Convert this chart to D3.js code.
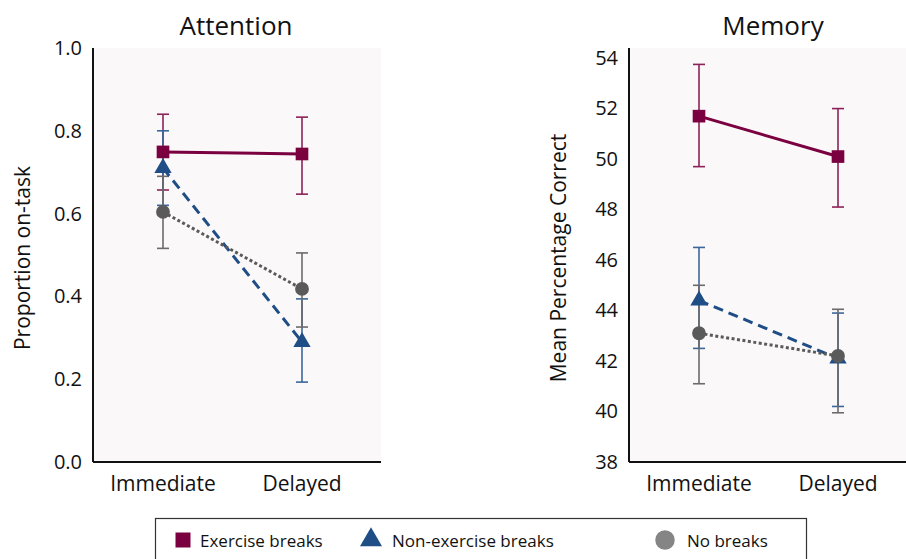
<!DOCTYPE html>
<meta charset="utf-8">
<html>
<head>
<style>
  body { margin: 0; background: #fff; }
  svg text { font-family: "Open Sans", "Noto Sans", sans-serif; fill: #111; }
</style>
</head>
<body>
<svg width="906" height="559"></svg>
<script src="https://cdn.jsdelivr.net/npm/d3@7"></script>
<script>
// categories on x
var phases = ["Immediate", "Delayed"];
var groups = ["Exercise breaks", "Non-exercise breaks", "No breaks"];

// Attention: proportion on-task (mean, low, high)
var attExercise = [0.749, 0.744];
var attExerciseLo = [0.657, 0.647];
var attExerciseHi = [0.840, 0.833];
var attNonEx = [0.710, 0.290];
var attNonExLo = [0.620, 0.193];
var attNonExHi = [0.800, 0.394];
var attNone = [0.604, 0.418];
var attNoneLo = [0.516, 0.326];
var attNoneHi = [0.690, 0.505];

// Memory: mean percentage correct
var memExercise = [51.7, 50.1];
var memExerciseLo = [49.7, 48.1];
var memExerciseHi = [53.75, 52.0];
var memNonEx = [44.4, 42.1];
var memNonExLo = [42.5, 40.2];
var memNonExHi = [46.5, 43.9];
var memNone = [43.1, 42.2];
var memNoneLo = [41.1, 39.95];
var memNoneHi = [45.0, 44.05];

var attTicks = [0, 0.2, 0.4, 0.6, 0.8, 1.0];
var memTicks = [38, 40, 42, 44, 46, 48, 50, 52, 54];

var colors = { ex: "#7a0040", non: "#1f4e86", none: "#5a5a5a" };
var errColors = { ex: "#8c2257", non: "#3a679c", none: "#6b6b6b" };

var svg = d3.select("svg");

function panel(opts) {
  var g = svg.append("g").attr("transform", "translate(" + opts.left + ",0)");
  var top = 48, bottom = 462;

  var x = d3.scalePoint().domain(phases).range([70, 209]);
  var y = d3.scaleLinear().domain(opts.domain).range([bottom, top]);

  g.append("rect")
    .attr("x", 0).attr("y", top)
    .attr("width", opts.width).attr("height", bottom - top)
    .attr("fill", "#fbf8f9");

  // y axis
  var ya = g.append("g").call(d3.axisLeft(y).tickValues(opts.ticks).tickSize(0).tickPadding(11).tickFormat(opts.fmt));
  ya.select(".domain").attr("stroke", "#111").attr("stroke-width", 2).attr("d", "M0," + top + "V" + bottom);
  ya.selectAll("text").style("font-size", "20px").attr("fill", "#111");

  // x axis line
  g.append("line")
    .attr("x1", 0).attr("x2", opts.width)
    .attr("y1", bottom).attr("y2", bottom)
    .attr("stroke", "#111").attr("stroke-width", 2);

  g.selectAll(".xlab").data(phases).enter().append("text")
    .attr("x", function(d) { return x(d); })
    .attr("y", 491)
    .attr("text-anchor", "middle")
    .style("font-size", "21px")
    .text(function(d) { return d; });

  g.append("text")
    .attr("x", opts.titleX).attr("y", 35)
    .attr("text-anchor", "middle")
    .style("font-size", "26px")
    .text(opts.title);

  g.append("text")
    .attr("transform", "translate(" + opts.ylabX + ",258) rotate(-90)")
    .attr("text-anchor", "middle")
    .style("font-size", "21px")
    .text(opts.ylab);

  var series = opts.series;

  // error bars
  series.forEach(function(s) {
    phases.forEach(function(p, i) {
      var cx = x(p);
      var eg = g.append("g").attr("stroke", errColors[s.key]).attr("stroke-width", 1.6);
      eg.append("line").attr("x1", cx).attr("x2", cx).attr("y1", y(s.lo[i])).attr("y2", y(s.hi[i]));
      eg.append("line").attr("x1", cx - 6).attr("x2", cx + 6).attr("y1", y(s.lo[i])).attr("y2", y(s.lo[i]));
      eg.append("line").attr("x1", cx - 6).attr("x2", cx + 6).attr("y1", y(s.hi[i])).attr("y2", y(s.hi[i]));
    });
  });

  var line = d3.line().x(function(d, i) { return x(phases[i]); }).y(function(d) { return y(d); });

  series.forEach(function(s) {
    g.append("path")
      .attr("d", line(s.mean))
      .attr("fill", "none")
      .attr("stroke", colors[s.key])
      .attr("stroke-width", 3)
      .attr("stroke-dasharray", s.dash);
  });

  // markers, drawn blue, grey, maroon
  [series[1], series[2], series[0]].forEach(function(s) {
    g.selectAll(null).data(s.mean).enter().append("path")
      .attr("transform", function(d, i) { return "translate(" + x(phases[i]) + "," + y(d) + ")"; })
      .attr("d", d3.symbol().type(s.symbol).size(s.size))
      .attr("fill", colors[s.key]);
  });
}

function seriesFor(m) {
  return [
    { key: "ex", mean: m[0], lo: m[1], hi: m[2], dash: null, symbol: d3.symbolSquare, size: 160 },
    { key: "non", mean: m[3], lo: m[4], hi: m[5], dash: "10,6", symbol: d3.symbolTriangle, size: 130 },
    { key: "none", mean: m[6], lo: m[7], hi: m[8], dash: "3,2.5", symbol: d3.symbolCircle, size: 150 }
  ];
}

panel({
  left: 93, width: 288, domain: [0, 1], ticks: attTicks, fmt: d3.format(".1f"),
  title: "Attention", titleX: 143, ylab: "Proportion on-task", ylabX: -63,
  series: seriesFor([attExercise, attExerciseLo, attExerciseHi, attNonEx, attNonExLo, attNonExHi, attNone, attNoneLo, attNoneHi])
});

panel({
  left: 629, width: 277, domain: [38, 54.4], ticks: memTicks, fmt: d3.format("d"),
  title: "Memory", titleX: 144, ylab: "Mean Percentage Correct", ylabX: -63,
  series: seriesFor([memExercise, memExerciseLo, memExerciseHi, memNonEx, memNonExLo, memNonExHi, memNone, memNoneLo, memNoneHi])
});

// legend
var lg = svg.append("g");
lg.append("rect")
  .attr("x", 155.5).attr("y", 518.5)
  .attr("width", 651).attr("height", 60)
  .attr("fill", "#fff").attr("stroke", "#333").attr("stroke-width", 1.2);

var legendItems = [
  { label: groups[0], x: 183, symbol: d3.symbolSquare, size: 225, color: "#7a0040", tx: 200 },
  { label: groups[1], x: 371, symbol: d3.symbolTriangle, size: 210, color: "#1f4e86", tx: 392 },
  { label: groups[2], x: 665, symbol: d3.symbolCircle, size: 300, color: "#858585", tx: 687 }
];
legendItems.forEach(function(it) {
  lg.append("path")
    .attr("transform", "translate(" + it.x + ",540)")
    .attr("d", d3.symbol().type(it.symbol).size(it.size))
    .attr("fill", it.color);
  lg.append("text")
    .attr("x", it.tx).attr("y", 547)
    .style("font-size", "17px")
    .text(it.label);
});
</script>
</body>
</html>
